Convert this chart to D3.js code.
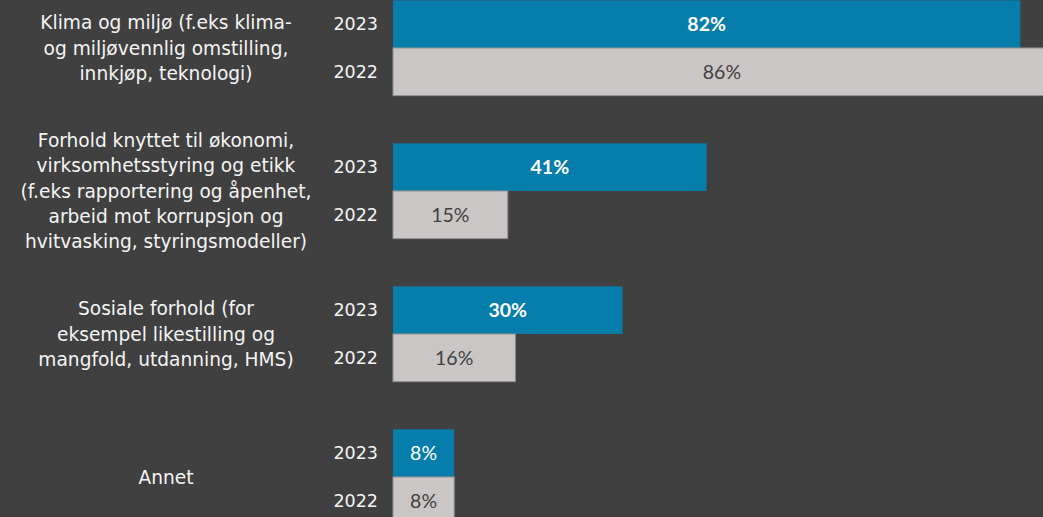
<!DOCTYPE html>
<html>
<head>
<meta charset="utf-8">
<script src="https://cdn.jsdelivr.net/npm/d3@7"></script>
<style>
  body { margin: 0; background: #404040; overflow: hidden; }
</style>
</head>
<body>
<div id="chart"></div>
<script>
// data
var categories = [
  ["Klima og miljø (f.eks klima-", "og miljøvennlig omstilling,", "innkjøp, teknologi)"],
  ["Forhold knyttet til økonomi,", "virksomhetsstyring og etikk", "(f.eks rapportering og åpenhet,", "arbeid mot korrupsjon og", "hvitvasking, styringsmodeller)"],
  ["Sosiale forhold (for", "eksempel likestilling og", "mangfold, utdanning, HMS)"],
  ["Annet"]
];
var years = ["2023", "2022"];
var values2023 = [82, 41, 30, 8];
var values2022 = [86, 15, 16, 8];

var width = 1043, height = 517;

var svg = d3.select("#chart")
  .append("svg")
    .attr("width", width)
    .attr("height", height);

svg.append("rect").attr("width", width).attr("height", height).attr("fill", "#404040");

// group scale: 2 bars + 1 bar-sized gap per group
var step = 143;
var y0 = d3.scaleBand()
  .domain(d3.range(categories.length))
  .range([0.3, 0.3 + step * 4 - step / 3])
  .paddingInner(1 / 3)
  .paddingOuter(0);

var y1 = d3.scaleBand()
  .domain(years)
  .range([0, y0.bandwidth()]);

var x = d3.scaleLinear().domain([0, 100]).range([393, 393 + 765]);

var rows = [];
categories.forEach(function(c, i) {
  rows.push({i: i, year: "2023", v: values2023[i]});
  rows.push({i: i, year: "2022", v: values2022[i]});
});

var g = svg.selectAll("g.grp")
  .data(rows)
  .enter()
  .append("g")
    .attr("class", "grp")
    .attr("transform", function(d) { return "translate(0," + (y0(d.i) + y1(d.year)) + ")"; });

g.append("rect")
  .attr("x", x(0))
  .attr("y", 0)
  .attr("width", function(d) { return x(d.v) - x(0); })
  .attr("height", y1.bandwidth())
  .attr("fill", function(d) { return d.year == "2023" ? "#077dab" : "#cbc6c6"; })
  .attr("stroke", function(d) { return d.year == "2023" ? "none" : "#8f8f8f"; })
  .attr("stroke-width", 1);

g.append("text")
  .attr("x", function(d) { return (x(0) + x(d.v)) / 2; })
  .attr("y", y1.bandwidth() / 2)
  .attr("dy", "0.36em")
  .attr("text-anchor", "middle")
  .style("font-family", "Lato, 'Open Sans', sans-serif")
  .style("font-size", "19.5px")
  .style("font-weight", function(d) { return d.year == "2023" && d.v > 10 ? "bold" : "normal"; })
  .attr("fill", function(d) { return d.year == "2023" ? "#ffffff" : "#404040"; })
  .text(function(d) { return d.v + "%"; });

g.append("text")
  .attr("x", 378)
  .attr("y", y1.bandwidth() / 2)
  .attr("dy", "0.36em")
  .attr("text-anchor", "end")
  .style("font-family", "'DejaVu Sans', sans-serif")
  .style("font-size", "17.5px")
  .attr("fill", "#f4f4f4")
  .text(function(d) { return d.year; });

// category labels
var lineH = 25.3;
categories.forEach(function(lines, i) {
  var cy = y0(i) + y0.bandwidth() / 2;
  var t = svg.append("text")
    .attr("x", 166)
    .attr("text-anchor", "middle")
    .style("font-family", "'DejaVu Sans', sans-serif")
    .style("font-size", "18.6px")
    .attr("fill", "#f4f4f4");
  lines.forEach(function(l, k) {
    t.append("tspan")
      .attr("x", 166)
      .attr("y", cy + (k - (lines.length - 1) / 2) * lineH)
      .attr("dy", "0.36em")
      .text(l);
  });
});
</script>
</body>
</html>
